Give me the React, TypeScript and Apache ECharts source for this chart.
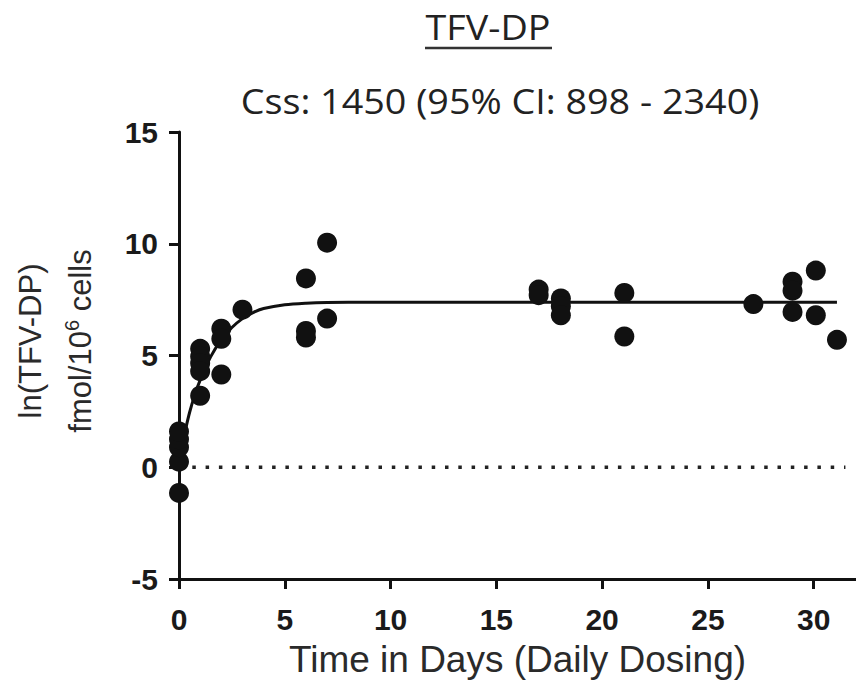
import React, { useEffect, useRef } from "react";
import * as echarts from "echarts";

// Tick values
const xTicks = [0, 5, 10, 15, 20, 25, 30];
const yTicks = [-5, 0, 5, 10, 15];

// Observed ln(TFV-DP) values: [day, value]
const day0 = [[0, -1.15], [0, 0.25], [0, 0.9], [0, 1.25], [0, 1.6]];
const day1 = [[1, 5.3], [1, 4.95], [1, 4.65], [1, 4.3], [1, 3.2]];
const day2to7 = [[2, 6.2], [2, 5.75], [2, 4.15], [3, 7.05], [6, 8.45], [6, 6.1], [6, 5.8], [7, 10.05], [7, 6.65]];
const day17to31 = [
  [17, 7.95], [17, 7.7], [18.05, 7.55], [18.05, 7.2], [18.05, 6.8],
  [21.05, 7.8], [21.05, 5.85], [27.15, 7.3], [29, 8.3], [29, 7.9], [29, 6.95],
  [30.1, 8.8], [30.1, 6.8], [31.1, 5.7],
];

// Fitted accumulation curve
const fitCurve = [
  [0, 0.2], [0.15, 0.95], [0.3, 1.65], [0.5, 2.45], [0.75, 3.25], [1, 3.9],
  [1.5, 4.95], [2, 5.7], [2.5, 6.25], [3, 6.65], [3.5, 6.92], [4, 7.1],
  [5, 7.27], [6, 7.34], [7, 7.37], [9, 7.38], [31.1, 7.38],
];

// Reference line at 0
const zeroLine = [[0, 0], [31.5, 0]];

const titleText = "TFV-DP";
const subtitleText = "Css: 1450 (95% CI: 898 - 2340)";
const xName = "Time in Days (Daily Dosing)";

export default function App() {
  const ref = useRef<HTMLDivElement>(null);
  useEffect(() => {
    if (!ref.current) return;
    const chart = echarts.init(ref.current, null, { renderer: "svg" });
    const axisFont = "'Liberation Sans', Arial, sans-serif";
    chart.setOption({
      animation: false,
      backgroundColor: "#ffffff",
      grid: { left: 179, right: 0, top: 132, bottom: 106, outerBoundsMode: "none" },
      xAxis: {
        type: "value",
        min: 0,
        max: 32,
        interval: 5,
        name: xName,
        nameLocation: "middle",
        nameGap: 62,
        nameTextStyle: { fontFamily: axisFont, fontSize: 37, color: "#2a2a2a" },
        axisLine: { onZero: false, lineStyle: { color: "#111", width: 3 } },
        axisTick: { length: 10, lineStyle: { color: "#111", width: 3 }, customValues: xTicks },
        axisLabel: {
          customValues: xTicks,
          margin: 25,
          fontFamily: axisFont,
          fontSize: 30,
          fontWeight: "bold",
          color: "#1a1a1a",
        },
        splitLine: { show: false },
      },
      yAxis: {
        type: "value",
        min: -5,
        max: 15,
        interval: 5,
        axisLine: { onZero: false, lineStyle: { color: "#111", width: 3 } },
        axisTick: { length: 10, lineStyle: { color: "#111", width: 3 }, customValues: yTicks },
        axisLabel: {
          customValues: yTicks,
          margin: 21,
          fontFamily: axisFont,
          fontSize: 30,
          fontWeight: "bold",
          color: "#1a1a1a",
        },
        splitLine: { show: false },
      },
      series: [
        {
          type: "line",
          data: zeroLine,
          showSymbol: false,
          lineStyle: { color: "#222", width: 3.5, type: [3.5, 9.8] },
          z: 1,
        },
        {
          type: "line",
          data: fitCurve,
          smooth: 0.3,
          showSymbol: false,
          lineStyle: { color: "#111", width: 3 },
          z: 2,
        },
        {
          type: "scatter",
          data: [...day0, ...day1, ...day2to7, ...day17to31],
          symbol: "circle",
          symbolSize: 20,
          itemStyle: { color: "#111", opacity: 1 },
          z: 3,
        },
      ],
      graphic: [
        {
          type: "text",
          x: 488,
          y: 27,
          scaleX: 1.11,
          style: {
            text: titleText,
            fontFamily: "'Open Sans', sans-serif",
            fontSize: 34,
            fill: "#222",
            align: "center",
            verticalAlign: "middle",
          },
        },
        {
          type: "line",
          shape: { x1: 425, y1: 48, x2: 552, y2: 48 },
          style: { stroke: "#333", lineWidth: 2.5 },
        },
        {
          type: "text",
          x: 500,
          y: 101,
          scaleX: 1.11,
          style: {
            text: subtitleText,
            fontFamily: "'Open Sans', sans-serif",
            fontSize: 34,
            fill: "#222",
            align: "center",
            verticalAlign: "middle",
          },
        },
        {
          type: "text",
          x: 30,
          y: 341,
          rotation: Math.PI / 2,
          style: {
            text: "ln(TFV-DP)",
            fontFamily: axisFont,
            fontSize: 31,
            fill: "#2a2a2a",
            align: "center",
            verticalAlign: "middle",
          },
        },
        {
          type: "text",
          x: 80,
          y: 341,
          rotation: Math.PI / 2,
          style: {
            text: "{a|fmol/10}{s|6}{a| cells}",
            fontFamily: axisFont,
            fill: "#2a2a2a",
            align: "center",
            verticalAlign: "middle",
            rich: {
              a: { fontFamily: axisFont, fontSize: 31, lineHeight: 36, fill: "#2a2a2a" },
              s: { fontFamily: axisFont, fontSize: 20, lineHeight: 20, verticalAlign: "top", fill: "#2a2a2a" },
            },
          },
        },
      ],
    });
    return () => chart.dispose();
  }, []);
  return (
    <div
      ref={ref}
      style={{ position: "fixed", left: 0, top: 0, width: 856, height: 685 }}
    />
  );
}
